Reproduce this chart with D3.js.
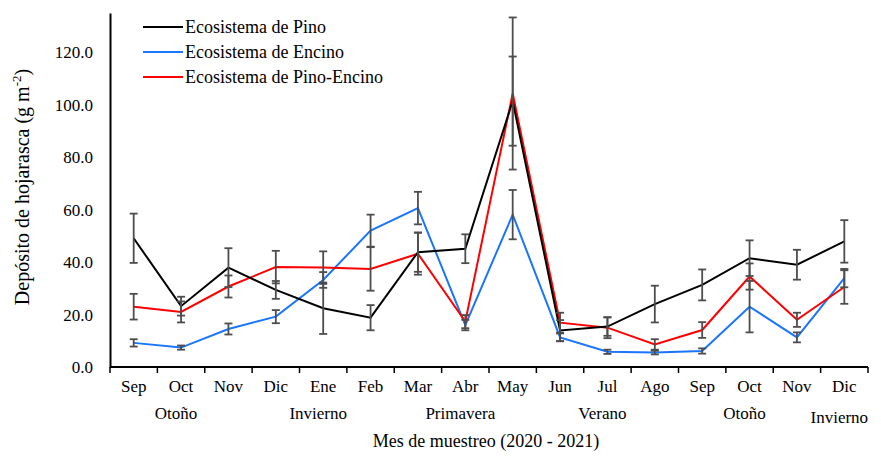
<!DOCTYPE html>
<html><head><meta charset="utf-8">
<script src="https://cdn.jsdelivr.net/npm/d3@7/dist/d3.min.js"></script>
<style>body{margin:0;background:#fff;} text{font-family:"Liberation Serif","Times New Roman",serif;}</style>
</head><body><svg id="c" width="881" height="457"></svg>
<script>
const months = ["Sep","Oct","Nov","Dic","Ene","Feb","Mar","Abr","May","Jun","Jul","Ago","Sep","Oct","Nov","Dic"];
const seasons = [["Otoño",1,0],["Invierno",4,0],["Primavera",7,0],["Verano",10,0],["Otoño",13,0],["Invierno",15,4]];
const seriesNames = ["Ecosistema de Pino","Ecosistema de Encino","Ecosistema de Pino-Encino"];
const pino      = [49.1,23.2,37.9,29.4,22.4,18.8,43.8,45.1,101.4,13.9,15.4,24.0,31.3,41.5,39.0,47.9];
const pinoErr   = [9.4,3.6,7.4,3.4,9.8,4.8,7.5,5.5,17.0,4.0,3.5,7.0,5.9,6.8,5.7,8.1];
const encino    = [9.2,7.4,14.5,19.2,33.2,52.0,60.6,16.0,58.1,11.3,5.8,5.5,6.1,23.0,11.3,33.9];
const encinoErr = [1.4,0.8,2.1,2.5,3.0,6.1,6.2,2.0,9.4,1.5,0.8,0.7,1.0,9.8,1.9,3.5];
const pinoEnc    = [23.0,21.0,30.7,38.1,37.9,37.4,43.2,17.3,104.3,16.9,15.0,8.6,14.1,34.5,18.0,30.5];
const pinoEncErr = [4.9,4.0,4.2,6.2,6.2,8.3,8.0,2.5,29.0,3.8,4.0,2.0,3.0,5.0,2.7,6.4];
const yTicks = [0,20,40,60,80,100,120];
const colors = ["#000000","#1a75ff","#ff0000"];

const svg = d3.select("#c");
const L=110, R=868, T=13, B=367;
const x = d3.scaleBand().domain(d3.range(months.length)).range([L,R]);
const y = d3.scaleLinear().domain([0,135]).range([B,T]);

// y axis
const ya = d3.axisLeft(y).tickValues(yTicks).tickFormat(d3.format(".1f")).tickSize(0).tickPadding(17);
const gy = svg.append("g").attr("transform",`translate(${L},0)`).call(ya);
gy.select(".domain").attr("stroke","#000").attr("stroke-width",2);
gy.selectAll("text").attr("font-size",17).attr("fill","#000").style("font-family","Liberation Serif");

// x axis with ticks at boundaries
const gx = svg.append("g").attr("transform",`translate(0,${B})`);
gx.append("line").attr("x1",L).attr("x2",R).attr("stroke","#000").attr("stroke-width",2);
gx.selectAll("line.t").data(d3.range(months.length+1)).join("line").attr("class","t")
  .attr("x1",i=>L+i*x.step()).attr("x2",i=>L+i*x.step()).attr("y1",0).attr("y2",6)
  .attr("stroke","#000").attr("stroke-width",1.5);
gx.selectAll("text.m").data(months).join("text").attr("class","m")
  .attr("x",(d,i)=>x(i)+x.bandwidth()/2).attr("y",25).attr("text-anchor","middle")
  .attr("font-size",17).text(d=>d);
gx.selectAll("text.s").data(seasons).join("text").attr("class","s")
  .attr("x",d=>x(d[1])+x.bandwidth()/2-5).attr("y",d=>52+d[2]).attr("text-anchor","middle")
  .attr("font-size",17).text(d=>d[0]);

// axis titles
svg.append("text").attr("x",486).attr("y",447).attr("text-anchor","middle").attr("font-size",18)
  .text("Mes de muestreo (2020 - 2021)");
const yt = svg.append("text").attr("transform","translate(29,187) rotate(-90)").attr("text-anchor","middle").attr("font-size",20);
yt.append("tspan").text("Depósito de hojarasca (g m");
yt.append("tspan").attr("dy",-8).attr("font-size",13).text("-2");
yt.append("tspan").attr("dy",8).text(")");

const cx = i => x(i)+x.bandwidth()/2;
const data = [
  {v:pino, e:pinoErr, c:colors[0]},
  {v:encino, e:encinoErr, c:colors[1]},
  {v:pinoEnc, e:pinoEncErr, c:colors[2]}
];
const line = d3.line().x((d,i)=>cx(i)).y(d=>y(d));
[1,2,0].forEach(k=>{
  svg.append("path").datum(data[k].v).attr("d",line).attr("fill","none")
    .attr("stroke",data[k].c).attr("stroke-width",2);
});
// error bars
data.forEach(s=>{
  const g = svg.append("g").attr("stroke","#4d4d4d").attr("stroke-width",1.8);
  s.v.forEach((v,i)=>{
    const e=s.e[i], xx=cx(i);
    g.append("line").attr("x1",xx).attr("x2",xx).attr("y1",y(v+e)).attr("y2",y(v-e));
    g.append("line").attr("x1",xx-4).attr("x2",xx+4).attr("y1",y(v+e)).attr("y2",y(v+e));
    g.append("line").attr("x1",xx-4).attr("x2",xx+4).attr("y1",y(v-e)).attr("y2",y(v-e));
  });
});

// legend
const lg = svg.append("g");
seriesNames.forEach((n,i)=>{
  const yy = 27+i*25;
  lg.append("line").attr("x1",143).attr("x2",183).attr("y1",yy).attr("y2",yy).attr("stroke",colors[i]).attr("stroke-width",2);
  lg.append("text").attr("x",185).attr("y",yy+6).attr("font-size",18).text(n);
});
</script></body></html>
